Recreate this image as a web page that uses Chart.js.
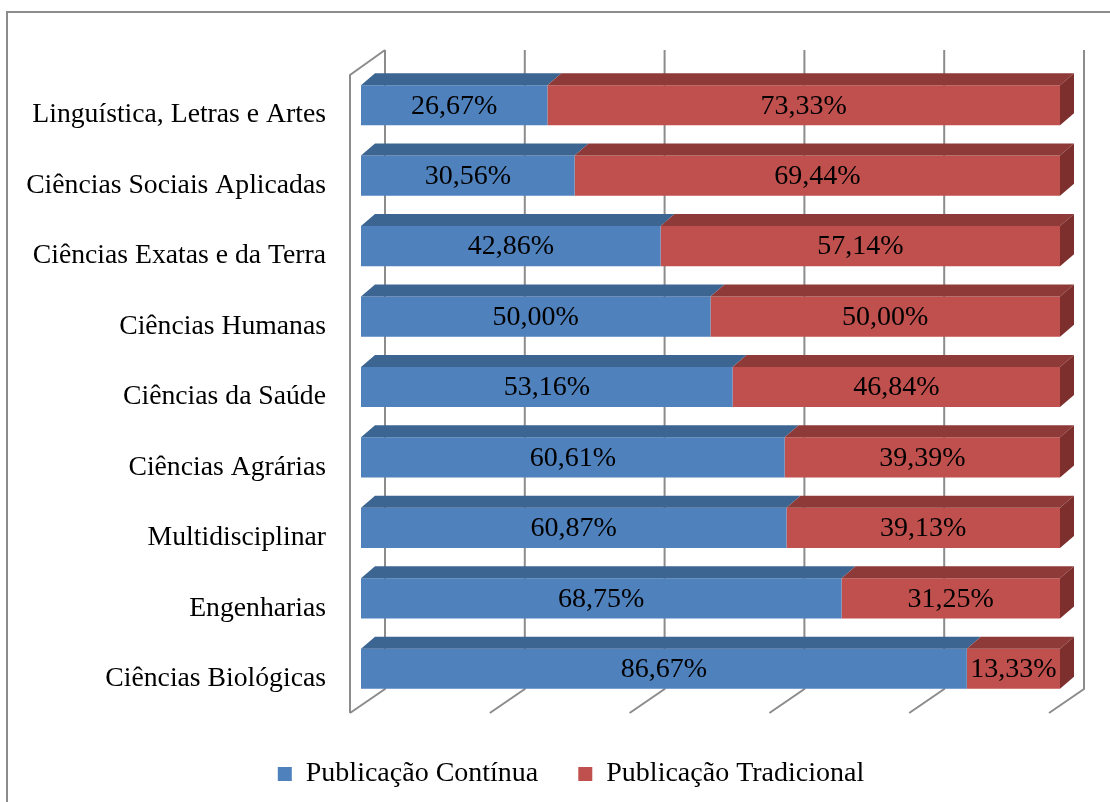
<!DOCTYPE html>
<html>
<head>
<meta charset="utf-8">
<script src="https://cdn.jsdelivr.net/npm/chart.js@4/dist/chart.umd.min.js"></script>
<style>
  html, body { margin: 0; padding: 0; background: #fff; overflow: hidden; }
  #wrap { position: relative; width: 1110px; height: 802px; }
  #frame { position: absolute; left: 6px; top: 11px; width: 1200px; height: 900px; border: 2px solid #8c8c8c; box-sizing: border-box; pointer-events: none; }
  canvas { position: absolute; left: 0; top: 0; }
</style>
</head>
<body>
<div id="wrap">
  <canvas id="chart" width="1110" height="802"></canvas>
  <div id="frame"></div>
</div>
<script>
// dados
const areas = [
  "Linguística, Letras e Artes",
  "Ciências Sociais Aplicadas",
  "Ciências Exatas e da Terra",
  "Ciências Humanas",
  "Ciências da Saúde",
  "Ciências Agrárias",
  "Multidisciplinar",
  "Engenharias",
  "Ciências Biológicas"
];
const continua = [26.67, 30.56, 42.86, 50.00, 53.16, 60.61, 60.87, 68.75, 86.67];
const tradicional = [73.33, 69.44, 57.14, 50.00, 46.84, 39.39, 39.13, 31.25, 13.33];
const gridTicks = [0, 20, 40, 60, 80, 100];

const FONT = "'Liberation Serif', 'DejaVu Serif', serif";
const FSIZE = 28;
const DX = 14, DY = 12; // profundidade das barras

// cores: frente, topo, lateral
const blue = ["#4f81bd", "#3d6592", "#345680"];
const red = ["#c0504d", "#8e3a38", "#7c2f2d"];

// paredes e linhas de grade em "3D"
const walls = {
  id: "walls",
  beforeDatasetsDraw(chart) {
    const ctx = chart.ctx;
    const x = chart.scales.x;
    const a = chart.chartArea;
    const topBack = a.top - 20, botBack = a.bottom - 15;
    const topFront = a.top + 5, botFront = a.bottom + 9;
    ctx.save();
    ctx.strokeStyle = "#8c8c8c";
    ctx.lineWidth = 2;
    gridTicks.forEach(v => {
      const px = x.getPixelForValue(v);
      ctx.beginPath();
      ctx.moveTo(px + 24, topBack);
      ctx.lineTo(px + 24, botBack);
      ctx.lineTo(px - 11, botFront);
      ctx.stroke();
    });
    // parede esquerda
    const p0 = x.getPixelForValue(0);
    ctx.beginPath();
    ctx.moveTo(p0 - 11, botFront);
    ctx.lineTo(p0 - 11, topFront);
    ctx.lineTo(p0 + 24, topBack);
    ctx.stroke();
    ctx.restore();
  }
};

// topo e lateral das barras + rótulos
const bars3d = {
  id: "bars3d",
  afterDatasetsDraw(chart) {
    const ctx = chart.ctx;
    const n = chart.data.datasets.length;
    ctx.save();
    chart.data.datasets.forEach((ds, i) => {
      const meta = chart.getDatasetMeta(i);
      const cols = i === 0 ? blue : red;
      meta.data.forEach(bar => {
        const top = bar.y - bar.height / 2;
        const bot = bar.y + bar.height / 2;
        ctx.fillStyle = cols[1];
        ctx.beginPath();
        ctx.moveTo(bar.base, top);
        ctx.lineTo(bar.base + DX, top - DY);
        ctx.lineTo(bar.x + DX, top - DY);
        ctx.lineTo(bar.x, top);
        ctx.closePath();
        ctx.fill();
        if (i === n - 1) {
          ctx.fillStyle = cols[2];
          ctx.beginPath();
          ctx.moveTo(bar.x, top);
          ctx.lineTo(bar.x + DX, top - DY);
          ctx.lineTo(bar.x + DX, bot - DY);
          ctx.lineTo(bar.x, bot);
          ctx.closePath();
          ctx.fill();
        }
      });
    });
    ctx.fillStyle = "#000";
    ctx.font = FSIZE + "px " + FONT;
    ctx.textAlign = "center";
    ctx.textBaseline = "middle";
    chart.data.datasets.forEach((ds, i) => {
      chart.getDatasetMeta(i).data.forEach((bar, j) => {
        const txt = ds.data[j].toFixed(2).replace(".", ",") + "%";
        ctx.fillText(txt, (bar.base + bar.x) / 2, bar.y + 1);
      });
    });
    ctx.restore();
  }
};

// desloca a legenda para a direita (centrada sob o gráfico)
const legendShift = {
  id: "legendShift",
  beforeDraw(chart) {
    const lg = chart.legend;
    lg.left += 41;
    lg.right += 41;
  }
};

const ctx = document.getElementById("chart").getContext("2d");
new Chart(ctx, {
  type: "bar",
  data: {
    labels: areas,
    datasets: [
      { label: "Publicação Contínua", data: continua, backgroundColor: blue[0] },
      { label: "Publicação Tradicional", data: tradicional, backgroundColor: red[0] }
    ]
  },
  options: {
    indexAxis: "y",
    responsive: false,
    animation: false,
    layout: { padding: { top: 70, right: 50, bottom: 4, left: 0 } },
    datasets: { bar: { categoryPercentage: 1, barPercentage: 0.57, borderWidth: 0 } },
    scales: {
      x: {
        stacked: true, min: 0, max: 100,
        grid: { display: false }, border: { display: false },
        ticks: { display: false },
        afterFit: s => { s.height = 16; }
      },
      y: {
        stacked: true,
        grid: { display: false }, border: { display: false },
        ticks: { color: "#000", font: { family: FONT, size: 27.7 }, padding: 27, labelOffset: 10 },
        afterFit: s => { s.width = 361; }
      }
    },
    plugins: {
      legend: {
        position: "bottom",
        labels: { color: "#000", font: { family: FONT, size: FSIZE }, boxWidth: 14, boxHeight: 14, padding: 40 }
      },
      tooltip: { enabled: false }
    }
  },
  plugins: [walls, bars3d, legendShift]
});
</script>
</body>
</html>
